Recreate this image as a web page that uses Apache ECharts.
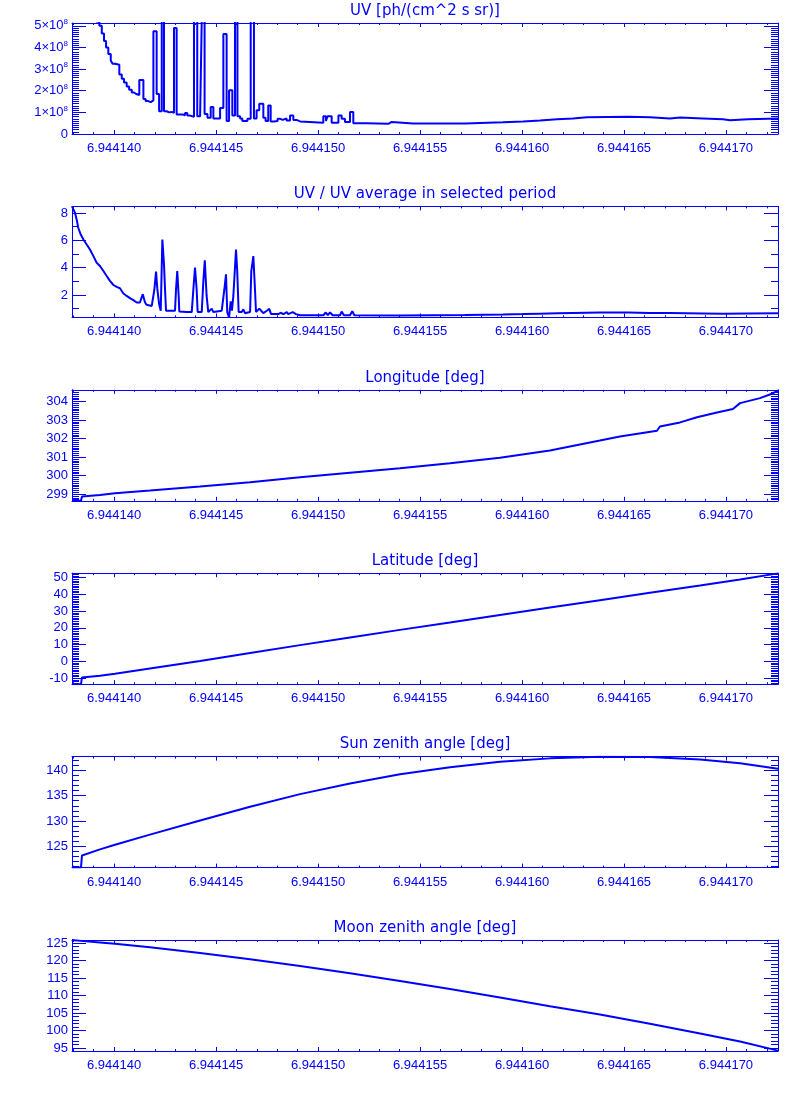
<!DOCTYPE html>
<html>
<head>
<meta charset="utf-8">
<script src="https://cdn.jsdelivr.net/npm/echarts@6/dist/echarts.min.js"></script>
<style>html,body{margin:0;padding:0;background:#fff}#c{width:800px;height:1100px}</style>
</head>
<body>
<div id="c"></div>
<script>
// ---------- data (time in days) ----------
const T_BASE = 6.944;
const X_MIN = 6.94413794;
const X_MAX = 6.94417255;

const panelTitles = [
  'UV [ph/(cm^2 s sr)]',
  'UV / UV average in selected period',
  'Longitude [deg]',
  'Latitude [deg]',
  'Sun zenith angle [deg]',
  'Moon zenith angle [deg]'
];

const uvTime = [
  6.94413794,6.94413809,6.94413824,6.94413838,6.94413853,6.94413868,6.94413882,6.94413899,6.94413913,6.94413928,
  6.94413940,6.94413951,6.94413961,6.94413972,6.94413984,6.94413993,6.94414005,6.94414026,6.94414038,6.94414049,
  6.94414062,6.94414074,6.94414087,6.94414098,6.94414109,6.94414124,6.94414144,6.94414155,6.94414168,6.94414180,
  6.94414193,6.94414209,6.94414221,6.94414234,6.94414245,6.94414258,6.94414270,6.94414283,6.94414294,6.94414307,
  6.94414337,6.94414348,6.94414359,6.94414373,6.94414392,6.94414408,6.94414422,6.94414431,6.94414444,6.94414458,
  6.94414474,6.94414487,6.94414520,6.94414536,6.94414552,6.94414564,6.94414580,6.94414593,6.94414605,6.94414618,
  6.94414629,6.94414654,6.94414670,6.94414686,6.94414699,6.94414712,6.94414732,6.94414743,6.94414756,6.94414768,
  6.94414784,6.94414802,6.94414814,6.94414827,6.94414846,6.94414863,6.94414879,6.94414895,6.94414912,6.94415026,
  6.94415039,6.94415047,6.94415067,6.94415100,6.94415116,6.94415132,6.94415157,6.94415173,6.94415239,6.94415345,
  6.94415361,6.94415466,6.94415475,6.94415721,6.94415907,6.94416005,6.94416088,6.94416172,6.94416250,6.94416319,
  6.94416520,6.94416627,6.94416725,6.94416775,6.94416887,6.94416985,6.94417020,6.94417108,6.94417255
];
const uvValues = [
  9.2e8,8.5e8,7.8e8,7.2e8,6.7e8,6.2e8,5.8e8,5.5e8,5.2e8,5.0e8,
  4.65e8,4.3e8,4.0e8,3.7e8,3.4e8,3.25e8,3.2e8,2.75e8,2.55e8,2.38e8,
  2.2e8,2.05e8,1.92e8,1.85e8,1.8e8,2.5e8,1.62e8,1.52e8,1.47e8,1.55e8,
  4.75e8,1.85e8,1.05e8,6.5e8,1.05e8,1.0e8,1.02e8,0.98e8,4.9e8,0.9e8,
  0.87e8,0.97e8,0.85e8,0.8e8,5.4e8,0.82e8,0.88e8,5.8e8,0.92e8,0.75e8,
  1.25e8,0.72e8,1.2e8,4.62e8,0.6e8,2.02e8,0.85e8,5.5e8,0.82e8,0.72e8,
  0.6e8,0.7e8,5.6e8,0.72e8,1.1e8,1.4e8,0.75e8,0.6e8,1.32e8,0.58e8,
  0.6e8,0.7e8,0.65e8,0.72e8,0.62e8,0.85e8,0.65e8,0.58e8,0.52e8,0.82e8,
  0.6e8,0.82e8,0.52e8,0.85e8,0.7e8,0.55e8,1.02e8,0.5e8,0.47e8,0.56e8,
  0.48e8,0.45e8,0.48e8,0.54e8,0.58e8,0.62e8,0.68e8,0.72e8,0.77e8,0.80e8,
  0.77e8,0.72e8,0.76e8,0.72e8,0.68e8,0.64e8,0.68e8,0.72e8,0.72e8
];

const ratioTime = [
  6.94413794,6.94413809,6.94413817,6.94413825,6.94413837,6.94413850,6.94413866,6.94413882,6.94413899,6.94413915,
  6.94413931,6.94413948,6.94413964,6.94413980,6.94413997,6.94414013,6.94414029,6.94414046,6.94414062,6.94414078,
  6.94414095,6.94414111,6.94414127,6.94414141,6.94414152,6.94414160,6.94414185,6.94414198,6.94414206,6.94414212,
  6.94414221,6.94414229,6.94414237,6.94414245,6.94414250,6.94414255,6.94414299,6.94414304,6.94414310,6.94414317,
  6.94414320,6.94414356,6.94414364,6.94414381,6.94414389,6.94414397,6.94414405,6.94414410,6.94414430,6.94414438,
  6.94414445,6.94414454,6.94414462,6.94414479,6.94414487,6.94414528,6.94414541,6.94414549,6.94414555,6.94414564,
  6.94414572,6.94414578,6.94414585,6.94414592,6.94414598,6.94414604,6.94414611,6.94414626,6.94414634,6.94414642,
  6.94414667,6.94414673,6.94414683,6.94414691,6.94414696,6.94414712,6.94414721,6.94414732,6.94414749,6.94414761,
  6.94414770,6.94414805,6.94414817,6.94414830,6.94414847,6.94414854,6.94414876,6.94414892,6.94414912,6.94415026,
  6.94415038,6.94415048,6.94415059,6.94415072,6.94415108,6.94415116,6.94415127,6.94415157,6.94415168,6.94415178,
  6.94415402,6.94415721,6.94415907,6.94416005,6.94416088,6.94416172,6.94416250,6.94416382,6.94416520,6.94416627,
  6.94416725,6.94416887,6.94416985,6.94417108,6.94417255
];
const ratioValues = [
  8.48,8.0,7.51,6.9,6.42,6.06,5.69,5.33,4.84,4.36,
  4.12,3.75,3.39,3.03,2.73,2.59,2.49,2.11,1.93,1.77,
  1.62,1.45,1.45,2.06,1.45,1.28,1.2,2.42,3.71,2.5,
  1.33,0.84,6.06,4.24,2.42,0.85,0.85,2.42,3.75,1.93,
  0.8,0.75,0.85,0.75,2.42,4.0,2.42,0.75,0.75,3.03,
  4.53,1.93,0.75,1.0,0.75,0.85,2.42,3.51,0.75,0.36,
  1.53,0.85,1.93,3.75,5.33,3.75,0.75,0.75,0.95,0.67,
  0.75,3.75,4.84,2.42,0.75,1.0,0.85,0.67,0.85,0.98,
  0.6,0.6,0.7,0.6,0.75,0.6,0.75,0.6,0.52,0.52,
  0.72,0.52,0.72,0.52,0.52,0.78,0.52,0.52,0.82,0.52,
  0.5,0.53,0.57,0.6,0.63,0.66,0.69,0.72,0.71,0.68,
  0.69,0.65,0.62,0.65,0.66
];

const lonTime = [
  6.94413794,6.94413838,6.94413843,6.94413931,6.94414005,6.94414176,6.94414422,6.94414667,6.94414912,6.94415157,
  6.94415402,6.94415647,6.94415892,6.94416137,6.94416382,6.94416480,6.94416662,6.94416676,6.94416775,6.94416858,
  6.94416956,6.94417034,6.94417069,6.94417167,6.94417225,6.94417255
];
const lonValues = [
  298.64,298.64,298.87,298.95,299.05,299.19,299.41,299.64,299.91,300.16,
  300.40,300.66,300.96,301.36,301.89,302.11,302.42,302.65,302.87,303.15,
  303.41,303.59,303.91,304.18,304.42,304.58
];

const posTime = [
  6.94413794,6.94413838,6.94413843,6.94413931,6.94414005,6.94414176,6.94414422,6.94414667,6.94414912,6.94415157,
  6.94415402,6.94415647,6.94415892,6.94416137,6.94416382,6.94416627,6.94416873,6.94417069,6.94417255
];
const latValues = [
  -13.6,-13.6,-9.6,-8.5,-7.4,-4.3,0.2,5.0,9.7,14.3,
  18.8,23.2,27.7,32.1,36.5,40.9,45.3,48.9,52.5
];
const sunValues = [
  120.8,120.8,123.2,124.4,125.3,127.3,130.1,132.8,135.3,137.4,
  139.2,140.6,141.7,142.35,142.65,142.6,142.15,141.4,140.3
];
const moonValues = [
  125.9,125.65,125.63,125.2,124.8,123.8,122.2,120.43,118.5,116.43,
  114.2,111.9,109.5,107.0,104.6,102.0,99.2,96.9,94.3
];

// ---------- chart ----------
const BLUE = '#0000ff';
const FONT = 'Liberation Sans';
const TITLE_FONT = 'DejaVu Sans';
const toOffset = t => Math.round((t - T_BASE) * 1e8) / 100; // in 1e-6 days

const panels = [
  {t: uvTime, v: uvValues, min: 0, max: 5.13e8, minor: 10, step: 'end', uv: true},
  {t: ratioTime, v: ratioValues, min: 0.36, max: 8.48, minor: 2},
  {t: lonTime, v: lonValues, min: 298.64, max: 304.63, minor: 10},
  {t: posTime, v: latValues, min: -13.6, max: 52.6, minor: 10},
  {t: posTime, v: sunValues, min: 120.8, max: 142.7, minor: 5},
  {t: posTime, v: moonValues, min: 94.2, max: 125.9, minor: 5}
];

const line = {color: BLUE, width: 1};
const grids = [], xAxes = [], yAxes = [], series = [], titles = [];
panels.forEach((p, i) => {
  const top = 23 + i * 183.4;
  grids.push({left: 72, width: 706, top: top, height: 111, containLabel: false});
  titles.push({
    text: panelTitles[i], left: 425, top: top - 21, textAlign: 'center', padding: 0,
    textStyle: {fontSize: 15, fontWeight: 'normal', color: BLUE, fontFamily: TITLE_FONT, lineHeight: 18}
  });
  const xBase = {
    type: 'value', gridIndex: i, min: toOffset(X_MIN), max: toOffset(X_MAX), splitNumber: 7,
    splitLine: {show: false},
    axisLine: {onZero: false, lineStyle: line},
    axisTick: {inside: true, length: 4, lineStyle: line},
    minorTick: {show: true, splitNumber: 5, length: 2, lineStyle: line}
  };
  xAxes.push(Object.assign({}, xBase, {
    position: 'bottom',
    axisLabel: {
      show: true, margin: 8, color: BLUE, fontFamily: FONT, fontSize: 13,
      showMinLabel: false, showMaxLabel: false,
      formatter: v => (T_BASE + v * 1e-6).toFixed(6)
    }
  }));
  xAxes.push(Object.assign({}, xBase, {position: 'top', axisLabel: {show: false}}));
  const yBase = {
    type: 'value', gridIndex: i, min: p.min, max: p.max, splitNumber: 5, scale: true,
    splitLine: {show: false},
    axisLine: {onZero: false, lineStyle: line},
    axisTick: {inside: true, length: 14, lineStyle: line},
    minorTick: {show: true, splitNumber: p.minor, length: 7, lineStyle: line}
  };
  const yLabel = {
    show: true, margin: 4, color: BLUE, fontFamily: FONT, fontSize: 13,
    showMinLabel: p.uv ? true : false, showMaxLabel: false
  };
  if (p.uv) {
    yLabel.formatter = v => v === 0 ? '{m|0}' : '{m|' + Math.round(v / 1e8) + '×10}{e|8}';
    yLabel.rich = {
      m: {fontSize: 13, color: BLUE, fontFamily: FONT, lineHeight: 16},
      e: {fontSize: 8, color: BLUE, fontFamily: FONT, verticalAlign: 'top', lineHeight: 10}
    };
  }
  yAxes.push(Object.assign({}, yBase, {position: 'left', axisLabel: yLabel}));
  yAxes.push(Object.assign({}, yBase, {position: 'right', axisLabel: {show: false}}));
  series.push({
    type: 'line', xAxisIndex: 2 * i, yAxisIndex: 2 * i,
    data: p.t.map((t, k) => [toOffset(t), p.v[k]]),
    step: p.step || false, showSymbol: false, symbol: 'none', clip: true,
    lineStyle: {color: BLUE, width: 2}, itemStyle: {color: BLUE},
    animation: false
  });
});

const chart = echarts.init(document.getElementById('c'), null, {renderer: 'canvas'});
chart.setOption({
  backgroundColor: '#ffffff',
  animation: false,
  title: titles,
  grid: grids,
  xAxis: xAxes,
  yAxis: yAxes,
  series: series
});
</script>
</body>
</html>
